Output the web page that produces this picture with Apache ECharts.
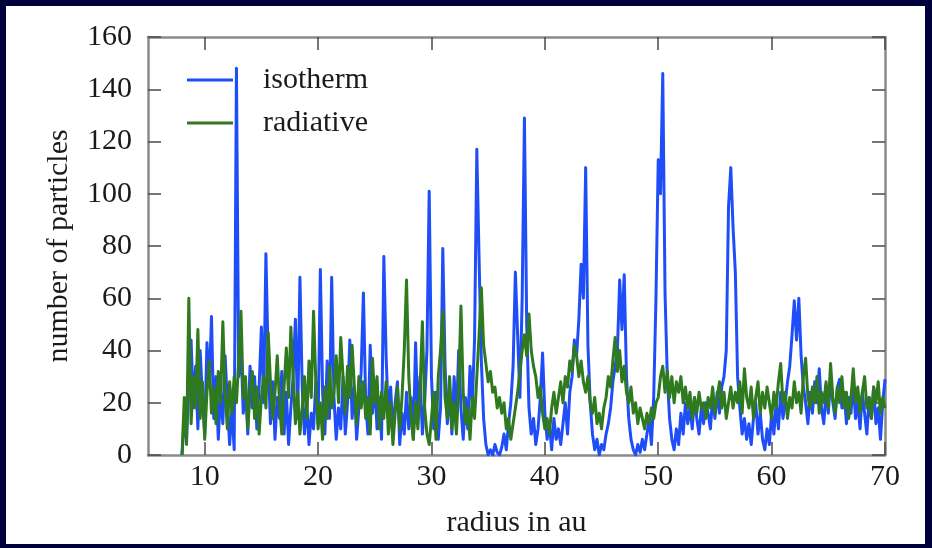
<!DOCTYPE html>
<html>
<head>
<meta charset="utf-8">
<title>number of particles vs radius</title>
<script src="https://cdn.jsdelivr.net/npm/echarts@6/dist/echarts.min.js"></script>
<style>
  html, body { margin: 0; padding: 0; }
  #frame { position: relative; width: 932px; height: 548px; background: #00003c; overflow: hidden; }
  #paper { position: absolute; left: 6px; top: 6px; right: 7px; bottom: 4px; background: #ffffff; }
  #chart { position: absolute; left: 0; top: 0; width: 932px; height: 548px; }
</style>
</head>
<body>
<div id="frame">
  <div id="paper"></div>
  <div id="chart"></div>
</div>
<script>
// radius grid: 8.0 au to 70.0 au in steps of 0.2 au
const radiusStart = 8.0;
const radiusStep = 0.2;

// particle counts, isothermal disc (one row = 2 au)
const isotherm = [
  0, 14, 6, 28, 44, 18, 34, 10, 40, 22,          // 8.0
  8, 43, 26, 53, 14, 30, 6, 24, 12, 38,          // 10.0
  20, 4, 18, 2, 148, 30, 42, 16, 26, 8,          // 12.0
  34, 18, 30, 10, 26, 49, 20, 77, 36, 12,        // 14.0
  28, 6, 22, 14, 32, 8, 24, 4, 18, 30,           // 16.0
  52, 14, 68, 26, 8, 20, 4, 16, 10, 28,          // 18.0
  12, 71, 24, 8, 36, 14, 68, 22, 6, 18,          // 20.0
  10, 30, 8, 20, 44, 14, 26, 6, 18, 32,          // 22.0
  62, 20, 8, 42, 16, 28, 10, 22, 6, 76,          // 24.0
  38, 14, 26, 8, 20, 28, 4, 16, 8, 24,           // 26.0
  10, 22, 6, 43, 14, 30, 8, 20, 40, 101,         // 28.0
  30, 10, 24, 6, 18, 79, 34, 12, 26, 8,          // 30.0
  30, 14, 40, 18, 6, 22, 10, 34, 20, 44,         // 32.0
  117, 75, 36, 14, 4, 0, 2, 0, 4, 1,             // 34.0
  0, 3, 8, 2, 12, 20, 34, 70, 46, 22,            // 36.0
  60, 129, 50, 18, 8, 14, 4, 10, 22, 39,         // 38.0
  16, 6, 12, 2, 14, 6, 10, 4, 12, 20,            // 40.0
  8, 24, 30, 44, 38, 52, 73, 60, 110, 42,        // 42.0
  20, 8, 2, 6, 0, 4, 2, 8, 12, 18,               // 44.0
  28, 34, 40, 67, 48, 69, 30, 14, 6, 2,          // 46.0
  0, 4, 1, 6, 2, 8, 14, 4, 22, 60,               // 48.0
  113, 100, 146, 62, 30, 14, 6, 2, 10, 4,        // 50.0
  16, 8, 20, 12, 18, 10, 22, 14, 8, 18,          // 52.0
  12, 20, 16, 10, 22, 14, 24, 16, 26, 30,        // 54.0
  40, 95, 110, 87, 70, 30, 18, 8, 14, 6,         // 56.0
  12, 4, 14, 20, 8, 16, 6, 2, 10, 4,             // 58.0
  16, 8, 20, 10, 24, 14, 20, 28, 34, 46,         // 60.0
  59, 44, 60, 38, 26, 20, 12, 24, 16, 28,        // 62.0
  20, 33, 18, 12, 24, 16, 30, 20, 14, 26,        // 64.0
  29, 18, 24, 12, 22, 16, 28, 14, 20, 10,        // 66.0
  24, 16, 8, 22, 14, 26, 12, 18, 6, 20,          // 68.0
  29                                             // 70.0
];

// particle counts, radiative disc (one row = 2 au)
const radiative = [
  0, 22, 4, 60, 12, 30, 18, 48, 14, 28,          // 8.0
  6, 24, 36, 16, 26, 12, 32, 20, 51, 24,         // 10.0
  10, 28, 16, 30, 20, 36, 55, 22, 30, 10,        // 12.0
  24, 32, 14, 26, 8, 22, 30, 18, 47, 28,         // 14.0
  14, 24, 38, 20, 8, 26, 41, 22, 49, 30,         // 16.0
  12, 24, 8, 18, 30, 14, 36, 22, 55, 28,         // 18.0
  10, 20, 6, 26, 14, 34, 18, 24, 38, 20,         // 20.0
  45, 30, 16, 34, 22, 42, 26, 12, 30, 18,        // 22.0
  28, 14, 22, 8, 37, 20, 30, 10, 24, 14,         // 24.0
  28, 8, 20, 4, 16, 26, 10, 22, 40, 67,          // 26.0
  30, 14, 6, 20, 10, 26, 51, 18, 8, 4,           // 28.0
  14, 24, 6, 30, 40, 55, 22, 14, 30, 10,         // 30.0
  20, 8, 26, 57, 24, 12, 18, 6, 22, 14,          // 32.0
  30, 46, 64, 42, 35, 28, 32, 24, 26, 18,        // 34.0
  22, 16, 20, 10, 14, 6, 12, 18, 24, 32,         // 36.0
  40, 46, 38, 54, 40, 34, 30, 22, 26, 16,        // 38.0
  10, 14, 8, 18, 24, 16, 22, 28, 20, 30,         // 40.0
  26, 36, 32, 42, 38, 30, 36, 28, 24, 30,        // 42.0
  20, 16, 22, 12, 16, 10, 18, 22, 30, 26,        // 44.0
  36, 45, 32, 40, 28, 34, 24, 20, 26, 16,        // 46.0
  20, 12, 18, 14, 10, 16, 12, 18, 14, 20,        // 48.0
  22, 30, 34, 24, 32, 22, 30, 20, 28, 24,        // 50.0
  30, 20, 26, 18, 24, 14, 22, 16, 24, 18,        // 52.0
  20, 14, 22, 18, 26, 16, 22, 28, 18, 24,        // 54.0
  14, 20, 26, 18, 24, 20, 28, 16, 33, 22,        // 56.0
  18, 26, 14, 22, 28, 16, 24, 18, 26, 20,        // 58.0
  14, 24, 18, 28, 35, 20, 24, 14, 22, 18,        // 60.0
  28, 20, 24, 16, 30, 37, 22, 18, 26, 20,        // 62.0
  30, 16, 24, 20, 28, 18, 35, 22, 16, 26,        // 64.0
  20, 30, 18, 24, 14, 22, 33, 20, 26, 16,        // 66.0
  24, 30, 18, 22, 14, 26, 20, 28, 16, 22,        // 68.0
  18                                             // 70.0
];

// axis ticks
const xTicks = [10, 20, 30, 40, 50, 60, 70];
const yTicks = [0, 20, 40, 60, 80, 100, 120, 140, 160];

const seriesNames = ['isotherm', 'radiative'];
const seriesColors = ['#1f4ef8', '#2f7a1f'];

const FONT = "'Liberation Serif', 'DejaVu Serif', 'Times New Roman', serif";
const TEXT = '#1a1a1a';

function toPairs(values) {
  return values.map((v, i) => [+(radiusStart + i * radiusStep).toFixed(2), v]);
}

const axisLine = { show: true, onZero: false, lineStyle: { color: '#8a8a8a', width: 2.5 } };
const tickStyle = { inside: true, length: 13, lineStyle: { color: '#4a4a4a', width: 1.5 } };

const chart = echarts.init(document.getElementById('chart'), null, { renderer: 'canvas' });

chart.setOption({
  animation: false,
  backgroundColor: 'transparent',
  textStyle: { fontFamily: FONT },
  grid: { left: 148, right: 47, top: 37, bottom: 93, containLabel: false },
  legend: {
    show: true,
    orient: 'vertical',
    left: 182,
    top: 60,
    itemWidth: 46,
    itemHeight: 3,
    itemGap: 13,
    icon: 'rect',
    data: seriesNames,
    textStyle: { fontFamily: FONT, fontSize: 30, color: TEXT, padding: [0, 0, 0, 25] }
  },
  xAxis: [
    {
      type: 'value', position: 'bottom', min: 5, max: 70,
      name: 'radius in au', nameLocation: 'middle', nameGap: 53,
      nameTextStyle: { fontFamily: FONT, fontSize: 30, color: TEXT },
      axisLine: axisLine,
      axisTick: Object.assign({ customValues: xTicks }, tickStyle),
      axisLabel: { customValues: xTicks, fontFamily: FONT, fontSize: 30, color: TEXT, margin: 7 },
      splitLine: { show: false }
    },
    {
      type: 'value', position: 'top', min: 5, max: 70,
      axisLine: axisLine,
      axisTick: Object.assign({ customValues: xTicks }, tickStyle),
      axisLabel: { show: false },
      splitLine: { show: false }
    }
  ],
  yAxis: [
    {
      type: 'value', position: 'left', min: 0, max: 160, interval: 20,
      name: 'number of particles', nameLocation: 'middle', nameGap: 74, nameRotate: 90,
      nameTextStyle: { fontFamily: FONT, fontSize: 30, color: TEXT },
      axisLine: axisLine,
      axisTick: Object.assign({ customValues: yTicks }, tickStyle),
      axisLabel: { customValues: yTicks, fontFamily: FONT, fontSize: 30, color: TEXT, margin: 16 },
      splitLine: { show: false }
    },
    {
      type: 'value', position: 'right', min: 0, max: 160, interval: 20,
      axisLine: axisLine,
      axisTick: Object.assign({ customValues: yTicks }, tickStyle),
      axisLabel: { show: false },
      splitLine: { show: false }
    }
  ],
  series: [
    {
      name: seriesNames[0], type: 'line', xAxisIndex: 0, yAxisIndex: 0,
      data: toPairs(isotherm), symbol: 'none', clip: true,
      color: seriesColors[0],
      lineStyle: { color: seriesColors[0], width: 3, join: 'round' },
      z: 2
    },
    {
      name: seriesNames[1], type: 'line', xAxisIndex: 0, yAxisIndex: 0,
      data: toPairs(radiative), symbol: 'none', clip: true,
      color: seriesColors[1],
      lineStyle: { color: seriesColors[1], width: 3, join: 'round' },
      z: 3
    }
  ]
});
</script>
</body>
</html>
